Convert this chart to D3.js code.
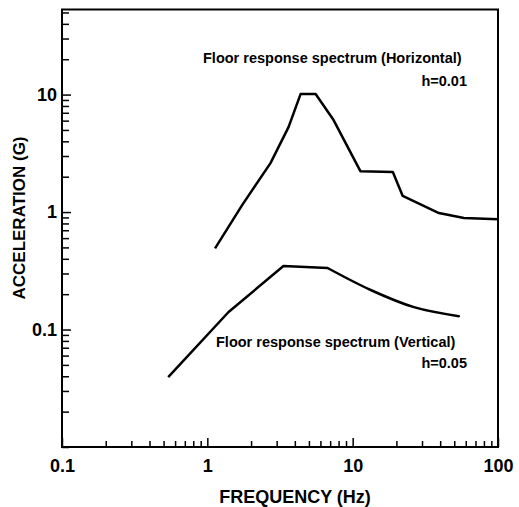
<!DOCTYPE html>
<html>
<head>
<meta charset="utf-8">
<script src="https://cdn.jsdelivr.net/npm/d3@7"></script>
<style>
  body { margin: 0; background: #fff; }
  text { font-family: "Liberation Sans", Arial, sans-serif; fill: #000; }
</style>
</head>
<body>
<div id="chart"></div>
<script>
// horizontal floor response spectrum, h = 0.01
var horizFreq = [1.13, 1.74, 2.72, 3.62, 4.38, 5.56, 7.39, 11.3, 18.9, 22.1, 39.2, 58.3, 100];
var horizAcc  = [0.49, 1.15, 2.61, 5.29, 10.1, 10.1, 6.07, 2.23, 2.19, 1.37, 0.98, 0.89, 0.87];

// vertical floor response spectrum, h = 0.05
var vertFreq = [0.538, 1.40, 3.34, 6.72, 13.3, 26.4, 53.8];
var vertAcc  = [0.0394, 0.141, 0.347, 0.334, 0.217, 0.155, 0.130];

var xLabels = [0.1, 1, 10, 100];
var yLabels = [0.1, 1, 10];

var width = 519, height = 507;
var margin = {top: 9.5, right: 20, bottom: 60, left: 62};

var svg = d3.select("#chart").append("svg")
    .attr("width", width)
    .attr("height", height);

var x = d3.scaleLog()
    .domain([0.1, 100])
    .range([margin.left, 498]);

var y = d3.scaleLog()
    .domain([0.01, 53])
    .range([447, margin.top]);

// 1..9 of each decade
function decadeTicks(lo, hi) {
    var t = [];
    for (var p = lo; p < hi; p++) {
        for (var k = 1; k <= 9; k++) {
            t.push(+(k * Math.pow(10, p)).toPrecision(3));
        }
    }
    return t;
}
var xTicks = decadeTicks(-1, 2).concat([100]);
var yTicks = decadeTicks(-2, 1).concat([10, 20, 30, 40, 50]);

// frame
svg.append("rect")
    .attr("x", x(0.1))
    .attr("y", margin.top)
    .attr("width", x(100) - x(0.1))
    .attr("height", y(0.01) - margin.top)
    .attr("fill", "none")
    .attr("stroke", "#000")
    .attr("stroke-width", 2);

// x axis
var gx = svg.append("g")
    .attr("transform", "translate(0," + y(0.01) + ")")
    .call(d3.axisBottom(x)
        .tickValues(xTicks)
        .tickSize(-6)
        .tickPadding(8)
        .tickFormat(function(d) { return xLabels.indexOf(d) >= 0 ? String(d) : ""; }));
gx.select(".domain").remove();
gx.selectAll(".tick line")
    .attr("stroke-width", 1.5)
    .attr("y2", function(d) { return xLabels.indexOf(d) >= 0 ? -9 : -6; });
gx.selectAll(".tick text")
    .attr("font-size", 18)
    .attr("font-weight", "bold")
    .attr("dy", "0.95em")
    .style("font-family", "Liberation Sans, Arial, sans-serif");

// y axis
var gy = svg.append("g")
    .attr("transform", "translate(" + x(0.1) + ",0)")
    .call(d3.axisLeft(y)
        .tickValues(yTicks)
        .tickSize(-7)
        .tickPadding(5)
        .tickFormat(function(d) { return yLabels.indexOf(d) >= 0 ? String(d) : ""; }));
gy.select(".domain").remove();
gy.selectAll(".tick line")
    .attr("stroke-width", 1.5)
    .attr("x2", function(d) { return yLabels.indexOf(d) >= 0 ? 9 : 7; });
gy.selectAll(".tick text")
    .attr("font-size", 18)
    .attr("font-weight", "bold")
    .style("font-family", "Liberation Sans, Arial, sans-serif");

// curves
var line = d3.line()
    .x(function(d) { return x(d[0]); })
    .y(function(d) { return y(d[1]); });

var smooth = d3.line()
    .x(function(d) { return x(d[0]); })
    .y(function(d) { return y(d[1]); })
    .curve(d3.curveMonotoneX);

svg.append("path")
    .datum(d3.zip(horizFreq, horizAcc))
    .attr("d", line)
    .attr("fill", "none")
    .attr("stroke", "#000")
    .attr("stroke-width", 2.5)
    .attr("stroke-linejoin", "round");

// vertical: straight rise and plateau, then a smooth fall-off
var vert = d3.zip(vertFreq, vertAcc);
svg.append("path")
    .datum(vert.slice(0, 4))
    .attr("d", line)
    .attr("fill", "none")
    .attr("stroke", "#000")
    .attr("stroke-width", 2.5)
    .attr("stroke-linejoin", "round");
svg.append("path")
    .datum(vert.slice(3))
    .attr("d", smooth)
    .attr("fill", "none")
    .attr("stroke", "#000")
    .attr("stroke-width", 2.5)
    .attr("stroke-linecap", "round");

// annotations
svg.append("text")
    .attr("x", 203).attr("y", 63)
    .attr("font-size", 14.5).attr("font-weight", "bold")
    .text("Floor response spectrum (Horizontal)");
svg.append("text")
    .attr("x", 467).attr("y", 86)
    .attr("text-anchor", "end")
    .attr("font-size", 14.5).attr("font-weight", "bold")
    .text("h=0.01");

svg.append("text")
    .attr("x", 216).attr("y", 347)
    .attr("font-size", 14.5).attr("font-weight", "bold")
    .text("Floor response spectrum (Vertical)");
svg.append("text")
    .attr("x", 467).attr("y", 368)
    .attr("text-anchor", "end")
    .attr("font-size", 14.5).attr("font-weight", "bold")
    .text("h=0.05");

// axis titles
svg.append("text")
    .attr("x", 295).attr("y", 503)
    .attr("text-anchor", "middle")
    .attr("font-size", 18).attr("font-weight", "bold")
    .text("FREQUENCY (Hz)");

svg.append("text")
    .attr("transform", "translate(25,218) rotate(-90)")
    .attr("text-anchor", "middle")
    .attr("font-size", 17).attr("font-weight", "bold")
    .text("ACCELERATION (G)");
</script>
</body>
</html>
